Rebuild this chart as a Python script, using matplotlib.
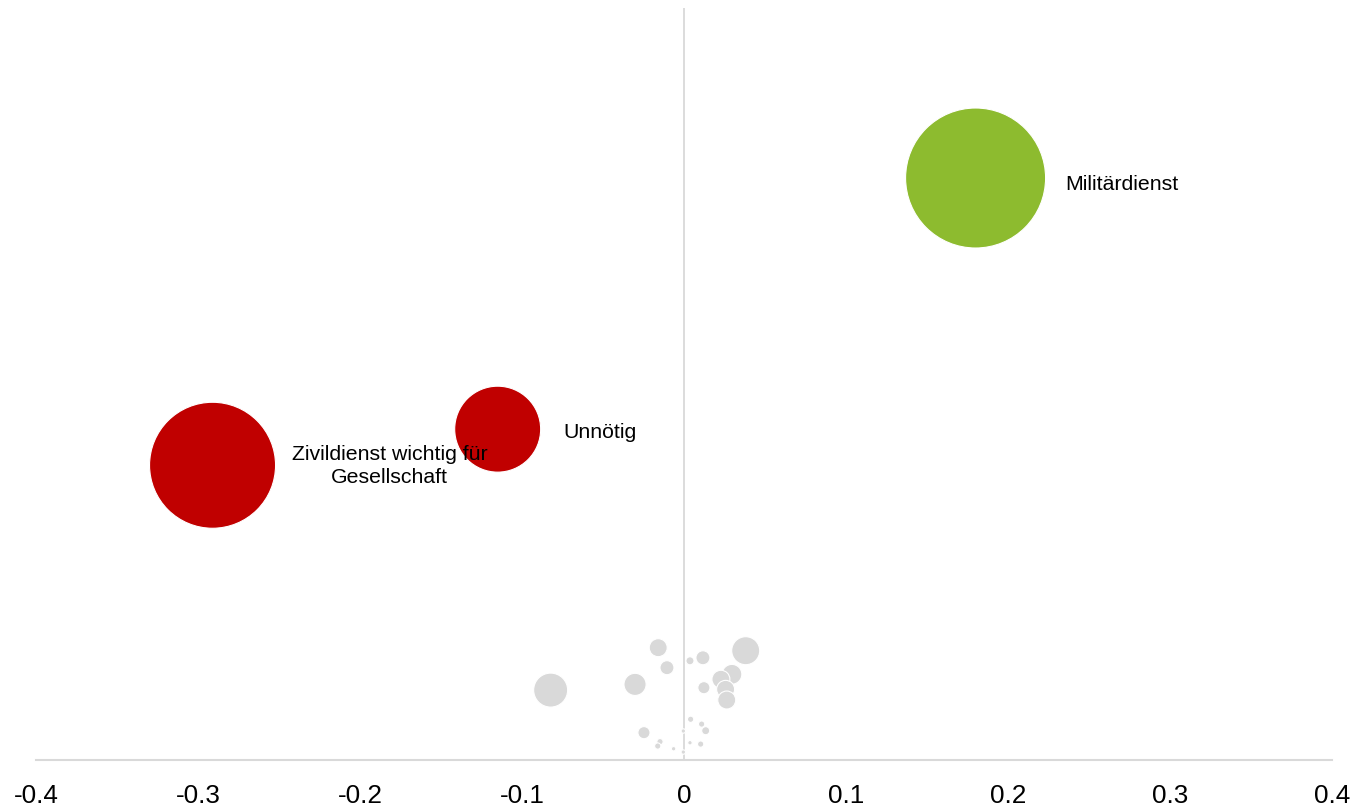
import matplotlib
matplotlib.use("Agg")
import matplotlib.pyplot as plt

plt.rcParams['font.family'] = ['Liberation Sans', 'DejaVu Sans']

# highlighted bubbles
labels = ["Militärdienst", "Unnötig", "Zivildienst wichtig für\nGesellschaft"]
hi_x = [0.180, -0.115, -0.291]
hi_y = [0.387, 0.220, 0.196]
hi_size = [100.0, 37.7, 81.0]
hi_color = ["#8DBB2F", "#C00000", "#C00000"]

# other (grey) bubbles
grey_x = [-0.0823, -0.0159, -0.0105, -0.0302, 0.0037, 0.0117, 0.0381, 0.0296,
          0.0228, 0.0257, 0.0123, 0.0264, 0.0041, 0.0109, 0.0134, -0.0247,
          -0.0148, -0.0162, -0.0064, 0.0037, 0.0103, -0.0004, -0.0004]
grey_y = [0.0465, 0.0747, 0.0614, 0.0503, 0.0660, 0.0680, 0.0727, 0.0570,
          0.0537, 0.0470, 0.0481, 0.0399, 0.0271, 0.0239, 0.0195, 0.0182,
          0.0122, 0.0093, 0.0075, 0.0115, 0.0106, 0.0193, 0.0053]
grey_size = [5.9, 1.65, 1.0, 2.5, 0.33, 1.0, 4.0, 2.0,
             1.65, 1.65, 0.75, 1.65, 0.2, 0.2, 0.33, 0.75,
             0.2, 0.2, 0.1, 0.1, 0.2, 0.1, 0.1]

fig = plt.figure(figsize=(13.52, 8.07), dpi=100)
ax = fig.add_axes([0.0266, 0.0582, 0.9586, 0.9318])

# largest bubble diameter ~140 px
scale = (140 * 0.72) ** 2 / 100.0

order = sorted(range(len(grey_x)), key=lambda i: -grey_size[i])
ax.scatter([grey_x[i] for i in order], [grey_y[i] for i in order],
           s=[grey_size[i] * scale for i in order], color="#D9D9D9",
           edgecolors="white", linewidths=0.8, zorder=3)
ax.scatter(hi_x, hi_y, s=[v * scale for v in hi_size], color=hi_color,
           edgecolors="white", linewidths=0.8, zorder=2)

offsets = [(64.5, -4.5), (47.5, -2.5), (57, -0.5)]
for lab, x, y, off in zip(labels, hi_x, hi_y, offsets):
    ax.annotate(lab, (x, y), xytext=off, textcoords="offset points",
                ha="left", va="center", multialignment="center",
                fontsize=15.3, linespacing=1.3, color="black", zorder=5)

ax.axvline(0, color="#D9D9D9", lw=1.3, zorder=1)
ax.set_xlim(-0.4, 0.4)
ax.set_ylim(0, 0.5)
ax.set_xticks([-0.4, -0.3, -0.2, -0.1, 0, 0.1, 0.2, 0.3, 0.4])
ax.set_xticklabels(["-0.4", "-0.3", "-0.2", "-0.1", "0", "0.1", "0.2", "0.3", "0.4"])
ax.tick_params(axis="x", length=0, labelsize=18.8, pad=17.5)
ax.set_yticks([])
for side in ["top", "left", "right"]:
    ax.spines[side].set_visible(False)
ax.spines["bottom"].set_color("#D9D9D9")
ax.spines["bottom"].set_linewidth(1.5)

fig.savefig("out.png", dpi=100)
